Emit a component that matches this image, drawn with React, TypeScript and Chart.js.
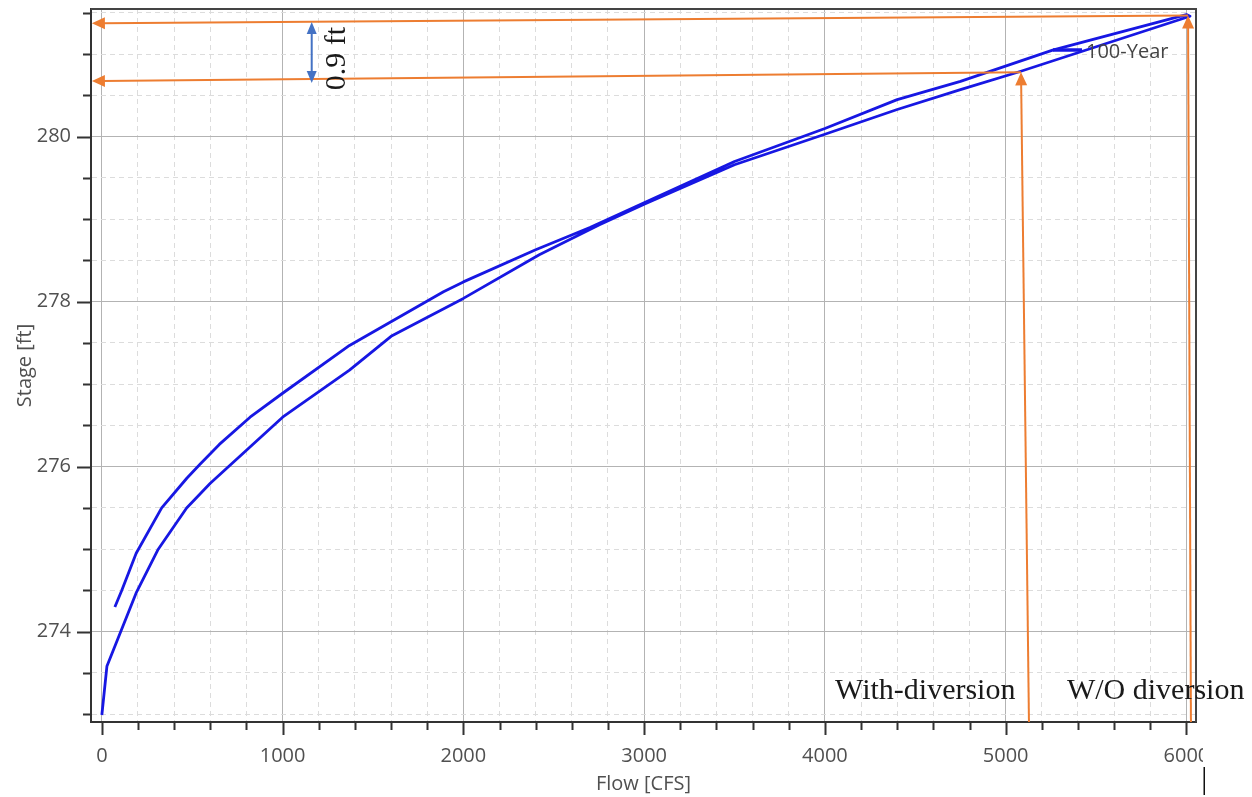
import React, { useEffect, useRef } from 'react';
import { Chart, registerables } from 'chart.js';

Chart.register(...registerables);

const W = 1252;
const H = 797;

// 100-Year looped stage–flow rating: rising limb, then falling limb back from the peak
const flowRising = [0, 28, 192, 312, 469, 600, 800, 1000, 1370, 1600, 2000, 2420, 2750, 3000, 3500, 4000, 4400, 4750, 5080, 6020];
const stageRising = [272.99, 273.58, 274.48, 275.0, 275.5, 275.8, 276.2, 276.6, 277.17, 277.58, 278.04, 278.57, 278.93, 279.18, 279.66, 280.03, 280.33, 280.57, 280.79, 281.46];
const flowFalling = [6000, 5260, 4750, 4400, 4000, 3500, 3000, 2700, 2400, 2000, 1890, 1370, 1000, 820, 650, 543, 470, 331, 190, 110, 72];
const stageFalling = [281.48, 281.05, 280.67, 280.45, 280.1, 279.7, 279.2, 278.9, 278.63, 278.24, 278.12, 277.47, 276.89, 276.6, 276.27, 276.03, 275.86, 275.5, 274.95, 274.5, 274.3];
const seriesLabel = '100-Year';

// Axis ranges and tick spacing
const flowMin = -60;
const flowMax = 6053;
const flowStep = 200;
const flowMajor = 1000;
const stageMin = 272.905;
const stageMax = 281.548;
const stageStep = 0.5;
const stageMajor = 2;

// Peak markers for the two scenarios
const scenarioLabels = ['With-diversion', 'W/O diversion'];
const scenarioPeakFlow = [5085, 6009];
const scenarioPeakStage = [280.78, 281.47];
const scenarioFootFlow = [5129, 6025];
const scenarioLeftStage = [280.675, 281.375];
const scenarioLabelFlow = [4056, 5339];
const scenarioLabelStage = 273.18;
const arrowLeftFlow = -55;

// Stage difference callout
const diffLabel = '0.9 ft';
const diffFlow = 1161;
const diffStageTop = 281.39;
const diffStageBottom = 280.65;

const lineBlue = '#1717e3';
const orange = '#ed7d31';
const calloutBlue = '#4472c4';
const axisDark = '#333333';
const labelGray = '#505050';
const majorGrid = '#b3b3b3';
const minorGrid = '#dcdcdc';
const uiFont = "'Open Sans', 'Noto Sans', sans-serif";
const serifFont = "'Liberation Serif', 'DejaVu Serif', serif";

const isMajor = (v: number, major: number) => Math.abs(v / major - Math.round(v / major)) < 1e-6;

function arrowHead(ctx: CanvasRenderingContext2D, x1: number, y1: number, x2: number, y2: number, len: number, half: number) {
  const a = Math.atan2(y2 - y1, x2 - x1);
  const bx = x2 - len * Math.cos(a);
  const by = y2 - len * Math.sin(a);
  ctx.beginPath();
  ctx.moveTo(x2, y2);
  ctx.lineTo(bx + half * Math.sin(a), by - half * Math.cos(a));
  ctx.lineTo(bx - half * Math.sin(a), by + half * Math.cos(a));
  ctx.closePath();
  ctx.fill();
}

function arrow(
  ctx: CanvasRenderingContext2D,
  x1: number, y1: number, x2: number, y2: number,
  color: string, width: number, len: number, half: number, both = false
) {
  const a = Math.atan2(y2 - y1, x2 - x1);
  const sx = both ? x1 + len * 0.8 * Math.cos(a) : x1;
  const sy = both ? y1 + len * 0.8 * Math.sin(a) : y1;
  const ex = x2 - len * 0.8 * Math.cos(a);
  const ey = y2 - len * 0.8 * Math.sin(a);
  ctx.save();
  ctx.strokeStyle = color;
  ctx.fillStyle = color;
  ctx.lineWidth = width;
  ctx.beginPath();
  ctx.moveTo(sx, sy);
  ctx.lineTo(ex, ey);
  ctx.stroke();
  arrowHead(ctx, x1, y1, x2, y2, len, half);
  if (both) arrowHead(ctx, x2, y2, x1, y1, len, half);
  ctx.restore();
}

const decorations = {
  id: 'decorations',
  beforeDraw(chart: any) {
    const { ctx } = chart;
    ctx.save();
    ctx.fillStyle = '#ffffff';
    ctx.fillRect(0, 0, chart.width, chart.height);
    ctx.restore();
  },
  afterDatasetsDraw(chart: any) {
    const { ctx, chartArea } = chart;
    const lx = chartArea.right - 143;
    const ly = chartArea.top + 41;
    ctx.save();
    ctx.strokeStyle = lineBlue;
    ctx.lineWidth = 3.5;
    ctx.beginPath();
    ctx.moveTo(lx, ly);
    ctx.lineTo(lx + 29, ly);
    ctx.stroke();
    ctx.fillStyle = '#444444';
    ctx.font = `20px ${uiFont}`;
    ctx.textBaseline = 'middle';
    ctx.textAlign = 'left';
    ctx.fillText(chart.data.datasets[0].label, lx + 33, ly + 2);
    ctx.restore();
  },
  afterDraw(chart: any) {
    const { ctx, chartArea } = chart;
    const xs = chart.scales.x;
    const ys = chart.scales.y;
    ctx.save();

    // frame on top and right
    ctx.strokeStyle = '#444444';
    ctx.lineWidth = 2;
    ctx.beginPath();
    ctx.moveTo(chartArea.left, chartArea.top);
    ctx.lineTo(chartArea.right, chartArea.top);
    ctx.lineTo(chartArea.right, chartArea.bottom);
    ctx.stroke();

    // tick marks: long at labelled values, short in between
    ctx.strokeStyle = axisDark;
    ctx.lineWidth = 2;
    ctx.beginPath();
    xs.ticks.forEach((t: any) => {
      const px = Math.round(xs.getPixelForValue(t.value)) + 0.5;
      const len = isMajor(t.value, flowMajor) ? 13 : 8;
      ctx.moveTo(px, chartArea.bottom);
      ctx.lineTo(px, chartArea.bottom + len);
    });
    ys.ticks.forEach((t: any) => {
      const py = Math.round(ys.getPixelForValue(t.value)) + 0.5;
      const len = isMajor(t.value, stageMajor) ? 14 : 8;
      ctx.moveTo(chartArea.left, py);
      ctx.lineTo(chartArea.left - len, py);
    });
    ctx.stroke();

    // the right edge of the picture trims the last flow label
    ctx.fillStyle = '#ffffff';
    ctx.fillRect(1203, chartArea.bottom + 16, W - 1203, 40);
    ctx.fillStyle = '#111111';
    ctx.fillRect(1203.5, 767, 1.5, 28);

    // scenario peak arrows
    scenarioLabels.forEach((name, i) => {
      const topX = xs.getPixelForValue(scenarioPeakFlow[i]);
      const topY = ys.getPixelForValue(scenarioPeakStage[i]);
      const footX = xs.getPixelForValue(scenarioFootFlow[i]);
      const footY = chartArea.bottom;
      arrow(ctx, footX, footY, topX, topY, orange, 2, 13, 6);
      const leftX = xs.getPixelForValue(arrowLeftFlow);
      const leftY = ys.getPixelForValue(scenarioLeftStage[i]);
      arrow(ctx, topX, topY, leftX, leftY, orange, 2, 13, 6);

      ctx.fillStyle = '#1a1a1a';
      ctx.font = `30px ${serifFont}`;
      ctx.textAlign = 'left';
      ctx.textBaseline = 'alphabetic';
      ctx.fillText(name, xs.getPixelForValue(scenarioLabelFlow[i]), ys.getPixelForValue(scenarioLabelStage));
    });

    // stage difference callout
    const dx = xs.getPixelForValue(diffFlow);
    const dyTop = ys.getPixelForValue(diffStageTop);
    const dyBottom = ys.getPixelForValue(diffStageBottom);
    arrow(ctx, dx, dyTop, dx, dyBottom, calloutBlue, 2, 12, 5, true);
    ctx.save();
    ctx.translate(dx + 33, (dyTop + dyBottom) / 2 + 6);
    ctx.rotate(-Math.PI / 2);
    ctx.fillStyle = '#1a1a1a';
    ctx.font = `30px ${serifFont}`;
    ctx.textAlign = 'center';
    ctx.textBaseline = 'alphabetic';
    ctx.fillText(diffLabel, 0, 0);
    ctx.restore();

    ctx.restore();
  },
};

export default function App() {
  const canvasRef = useRef<HTMLCanvasElement>(null);

  useEffect(() => {
    const canvas = canvasRef.current;
    if (!canvas) return;

    const loop = [
      ...flowRising.map((x, i) => ({ x, y: stageRising[i] })),
      ...flowFalling.map((x, i) => ({ x, y: stageFalling[i] })),
    ];

    const gridColor = (major: number) => (c: any) =>
      c.tick && isMajor(c.tick.value, major) ? majorGrid : minorGrid;
    const gridDash = (major: number) => (c: any) =>
      c.tick && !isMajor(c.tick.value, major) ? [5, 4] : [];

    const chart = new Chart(canvas, {
      type: 'scatter',
      data: {
        datasets: [
          {
            label: seriesLabel,
            data: loop,
            showLine: true,
            borderColor: lineBlue,
            backgroundColor: lineBlue,
            borderWidth: 2.8,
            borderJoinStyle: 'round',
            pointRadius: 0,
            tension: 0,
            fill: false,
          },
        ],
      },
      options: {
        responsive: false,
        animation: false,
        devicePixelRatio: 1,
        events: [],
        layout: { padding: { top: 9, right: 56, left: 0, bottom: 0 } },
        plugins: { legend: { display: false }, tooltip: { enabled: false } },
        scales: {
          x: {
            type: 'linear',
            position: 'bottom',
            min: flowMin,
            max: flowMax,
            afterFit: (s: any) => {
              s.height = 75;
              s.paddingLeft = 0;
              s.paddingRight = 0;
            },
            ticks: {
              stepSize: flowStep,
              autoSkip: false,
              maxRotation: 0,
              includeBounds: false,
              padding: 22,
              color: labelGray,
              font: { family: uiFont, size: 20 },
              callback: (v: any) => (isMajor(Number(v), flowMajor) ? String(v) : ''),
            },
            grid: { color: gridColor(flowMajor), lineWidth: 1, drawTicks: false },
            border: { display: true, color: axisDark, width: 2, dash: gridDash(flowMajor) },
            title: {
              display: true,
              text: 'Flow [CFS]',
              color: labelGray,
              font: { family: uiFont, size: 20 },
              padding: { top: 0, bottom: 1 },
            },
          },
          y: {
            type: 'linear',
            position: 'left',
            min: stageMin,
            max: stageMax,
            afterFit: (s: any) => {
              s.width = 91;
              s.paddingTop = 0;
              s.paddingBottom = 0;
            },
            ticks: {
              stepSize: stageStep,
              autoSkip: false,
              includeBounds: false,
              padding: 20,
              color: labelGray,
              font: { family: uiFont, size: 20 },
              callback: (v: any) => (isMajor(Number(v), stageMajor) ? String(v) : ''),
            },
            grid: { color: gridColor(stageMajor), lineWidth: 1, drawTicks: false },
            border: { display: true, color: axisDark, width: 2, dash: gridDash(stageMajor) },
            title: {
              display: true,
              text: 'Stage [ft]',
              color: labelGray,
              font: { family: uiFont, size: 20 },
              padding: { top: 13, bottom: 0 },
            },
          },
        },
      },
      plugins: [decorations],
    } as any);

    return () => chart.destroy();
  }, []);

  return (
    <div style={{ position: 'fixed', left: 0, top: 0, width: W, height: H, background: '#ffffff' }}>
      <canvas ref={canvasRef} width={W} height={H} style={{ display: 'block', width: W, height: H }} />
    </div>
  );
}
